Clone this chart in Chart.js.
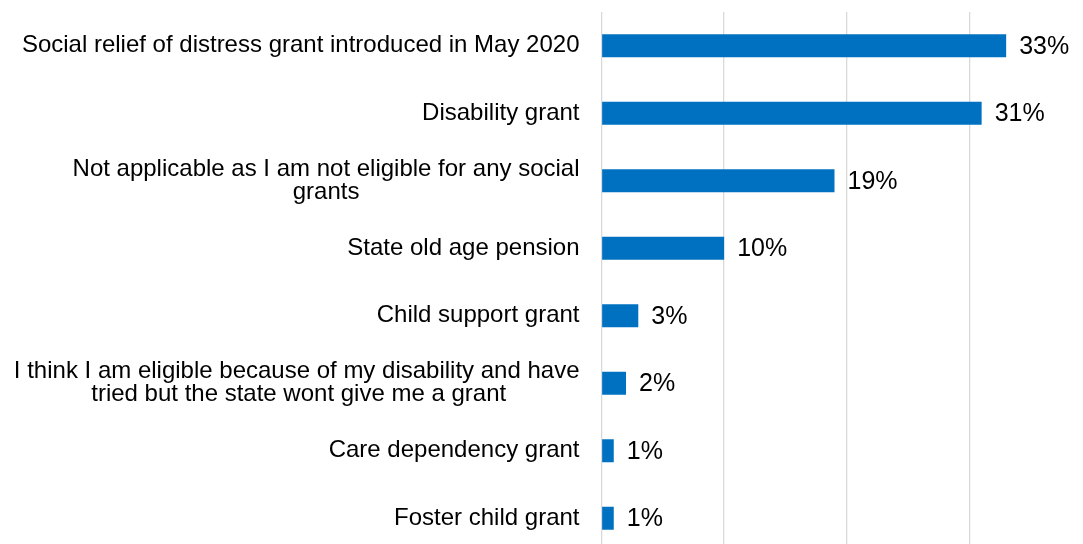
<!DOCTYPE html>
<html>
<head>
<meta charset="utf-8">
<script src="https://cdn.jsdelivr.net/npm/chart.js@4.4.1/dist/chart.umd.min.js"></script>
<style>
  html, body { margin: 0; padding: 0; background: #ffffff; overflow: hidden; width: 1083px; height: 544px; }
  #wrap { position: absolute; left: 0; top: 0; width: 1100px; height: 560px; }
</style>
</head>
<body>
<div id="wrap"><canvas id="chart" width="1100" height="560"></canvas></div>
<script>
// Grant categories (wrapped lines) and share of respondents, in percent
const categories = [
  ['Social relief of distress grant introduced in May 2020'],
  ['Disability grant'],
  ['Not applicable as I am not eligible for any social', 'grants'],
  ['State old age pension'],
  ['Child support grant'],
  ['I think I am eligible because of my disability and have', 'tried but the state wont give me a grant'],
  ['Care dependency grant'],
  ['Foster child grant']
];
const values = [33, 31, 19, 10, 3, 2, 1, 1];
const xTicks = [0, 10, 20, 30, 40];

const FONT_FAMILY = '"Liberation Sans", Arial, sans-serif';
const LABEL_SIZE = 24;
const VALUE_SIZE = 25;

// Wrapped lines are centred on each other while the block stays right-aligned
// against the axis: pad shorter lines with trailing spaces.
const measureCtx = document.createElement('canvas').getContext('2d');
function centreLines(lines) {
  measureCtx.font = LABEL_SIZE + 'px ' + FONT_FAMILY;
  const widths = lines.map(l => measureCtx.measureText(l).width);
  const widest = Math.max(...widths);
  const space = measureCtx.measureText(' ').width;
  return lines.map((l, i) => l + ' '.repeat(Math.round((widest - widths[i]) / 2 / space)));
}
const labels = categories.map(c => c.length > 1 ? centreLines(c) : c[0]);

// Percentage labels just past the end of each bar
const valueLabels = {
  id: 'valueLabels',
  afterDatasetsDraw(chart) {
    const ctx = chart.ctx;
    const meta = chart.getDatasetMeta(0);
    ctx.save();
    ctx.font = VALUE_SIZE + 'px ' + FONT_FAMILY;
    ctx.fillStyle = '#000000';
    ctx.textAlign = 'left';
    ctx.textBaseline = 'middle';
    meta.data.forEach((bar, i) => {
      ctx.fillText(values[i] + '%', bar.x + 13, bar.y + 1);
    });
    ctx.restore();
  }
};

new Chart(document.getElementById('chart'), {
  type: 'bar',
  data: {
    labels: labels,
    datasets: [{
      data: values,
      backgroundColor: '#0070C0',
      borderWidth: 0,
      categoryPercentage: 1.0,
      barPercentage: 0.34
    }]
  },
  options: {
    indexAxis: 'y',
    responsive: false,
    animation: false,
    devicePixelRatio: 1,
    layout: { padding: { left: 0, right: 8, top: 12, bottom: 8 } },
    plugins: {
      legend: { display: false },
      tooltip: { enabled: false }
    },
    scales: {
      x: {
        min: 0,
        max: 40,
        afterBuildTicks(scale) { scale.ticks = xTicks.map(v => ({ value: v })); },
        afterFit(scale) { scale.paddingLeft = 0; scale.paddingRight = 0; },
        ticks: { display: false },
        grid: { color: '#D9D9D9', lineWidth: 1.3, drawTicks: false },
        border: { display: false }
      },
      y: {
        afterFit(scale) {
          scale.width = 601.5;
          scale.paddingTop = 0;
          scale.paddingBottom = 0;
        },
        ticks: {
          color: '#000000',
          padding: 22,
          font: { family: FONT_FAMILY, size: LABEL_SIZE, lineHeight: 0.95 }
        },
        grid: { display: false, drawTicks: false },
        border: { display: false }
      }
    }
  },
  plugins: [valueLabels]
});
</script>
</body>
</html>
